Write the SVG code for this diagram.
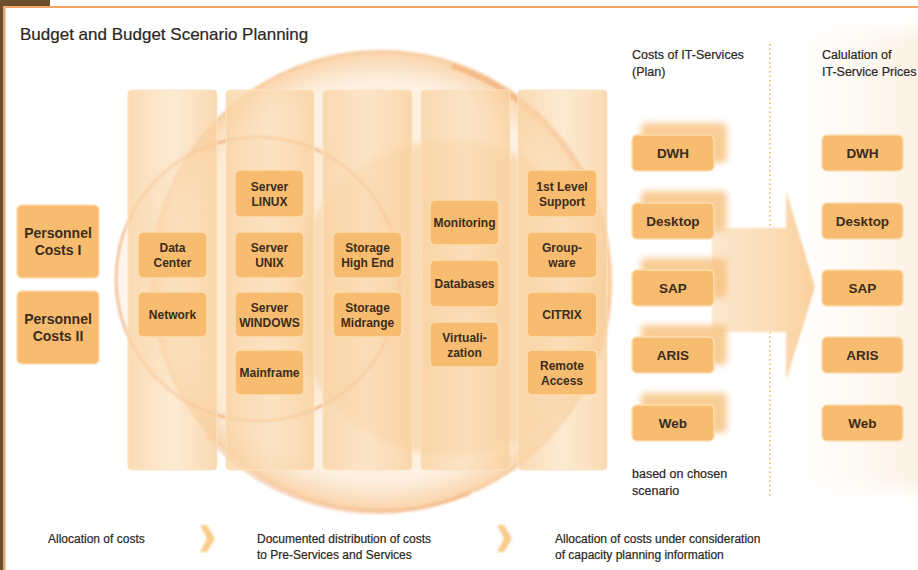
<svg xmlns="http://www.w3.org/2000/svg" width="918" height="570" viewBox="0 0 918 570">
<defs>
<style>
.t{font-family:"Liberation Sans",Arial,sans-serif;fill:#2a2622;stroke:#2a2622;stroke-width:0.2}
.n rect{fill:#F7BC70;stroke:#FCDDB0;stroke-width:1.5}
.n text{font-family:"Liberation Sans",Arial,sans-serif;font-weight:bold;font-size:12px;fill:#3a2c1c;text-anchor:middle}
.big text{font-size:14px}
.svc text{font-size:13.5px}
.n rect.stk{fill:#F8C383;stroke:none;filter:url(#blur3);opacity:0.85}
.col{fill:url(#colg);stroke:#FCE3C2;stroke-width:1}
.chev{fill:#F9CC8C;filter:url(#blur1)}
</style>
<linearGradient id="colg" x1="0" y1="0" x2="1" y2="0">
<stop offset="0" stop-color="#F9D3A3" stop-opacity="0.8"/>
<stop offset="0.5" stop-color="#FBDDB6" stop-opacity="0.62"/>
<stop offset="1" stop-color="#F9D09E" stop-opacity="0.8"/>
</linearGradient>
<radialGradient id="bigg" cx="0.5" cy="0.5" r="0.5">
<stop offset="0" stop-color="#FBE0BC" stop-opacity="0.45"/>
<stop offset="0.86" stop-color="#FCE6CA" stop-opacity="0.55"/>
<stop offset="1" stop-color="#F7C38A" stop-opacity="0.75"/>
</radialGradient>
<linearGradient id="arrg" x1="712" y1="0" x2="815" y2="0" gradientUnits="userSpaceOnUse">
<stop offset="0" stop-color="#FCE7CE"/>
<stop offset="0.6" stop-color="#FBDDB6"/>
<stop offset="1" stop-color="#F9D09C"/>
</linearGradient>
<linearGradient id="rightg" x1="0" y1="0" x2="1" y2="0">
<stop offset="0" stop-color="#FDF3E8" stop-opacity="0"/>
<stop offset="1" stop-color="#FCEBD8" stop-opacity="0.8"/>
</linearGradient>
<filter id="blur1" x="-30%" y="-30%" width="160%" height="160%"><feGaussianBlur stdDeviation="1.2"/></filter>
<filter id="blur3" x="-30%" y="-30%" width="160%" height="160%"><feGaussianBlur stdDeviation="3"/></filter>
<filter id="blur8" x="-30%" y="-30%" width="160%" height="160%"><feGaussianBlur stdDeviation="8"/></filter>
</defs>

<rect x="0" y="0" width="918" height="570" fill="#FFFFFF"/>
<rect x="790" y="30" width="140" height="460" fill="url(#rightg)" filter="url(#blur8)"/>

<!-- frame -->
<g id="frame">
<rect x="0" y="0" width="50" height="6" fill="#6E4F2C"/>
<rect x="0" y="0" width="3.5" height="570" fill="#6E4F2C"/>
<line x1="4.5" y1="7" x2="918" y2="7" stroke="#F2A566" stroke-width="2"/>
<line x1="4.5" y1="6" x2="4.5" y2="570" stroke="#F2A566" stroke-width="2"/>
</g>

<!-- background circles -->
<g id="decoration">
<circle cx="381" cy="281" r="230" fill="url(#bigg)" stroke="#F6BE88" stroke-width="3" stroke-opacity="0.5" filter="url(#blur1)"/>
<circle cx="450" cy="298" r="158" fill="#F6BF7E" opacity="0.42" filter="url(#blur3)"/>
<circle cx="258" cy="279" r="142" fill="#FBDDB8" fill-opacity="0.25" stroke="#EE9F66" stroke-width="3" stroke-opacity="0.6" filter="url(#blur1)"/>
<path d="M 452 66 A 230 230 0 0 1 585 180" fill="none" stroke="#F0A36A" stroke-width="5" opacity="0.55" filter="url(#blur1)"/>
<path d="M 205 434 A 230 230 0 0 0 470 493" fill="none" stroke="#F0A36A" stroke-width="4" opacity="0.4" filter="url(#blur1)"/>
</g>

<!-- cost layer columns -->
<g id="columns">
<rect id="col1" class="col" x="128" y="90" width="89" height="380" rx="4"/>
<rect id="col2" class="col" x="226" y="90" width="88" height="380" rx="4"/>
<rect id="col3" class="col" x="323" y="90" width="89" height="380" rx="4"/>
<rect id="col4" class="col" x="421" y="90" width="89" height="380" rx="4"/>
<rect id="col5" class="col" x="518" y="90" width="89" height="380" rx="4"/>
</g>

<!-- connectors -->
<g id="connectors">
<line x1="770" y1="44" x2="770" y2="496" stroke="#E9B85E" stroke-width="1.6" stroke-dasharray="1.5 3"/>
<g filter="url(#blur1)">
<path d="M 712 228 L 786 228 L 786 190 L 815 287 L 786 381 L 786 332 L 712 332 Z" fill="url(#arrg)"/>
</g>
<polygon class="chev" points="200,525 207,525 215,538.5 207,552 200,552 207,538.5"/>
<polygon class="chev" points="497,525 504,525 512,538.5 504,552 497,552 504,538.5"/>
</g>

<!-- title -->
<text class="t" x="20" y="40" font-size="17">Budget and Budget Scenario Planning</text>

<!-- personnel -->
<g id="pers1" class="n big"><rect x="17" y="205" width="82" height="73" rx="5"/><text x="58" y="238">Personnel</text><text x="58" y="255">Costs I</text></g>
<g id="pers2" class="n big"><rect x="17" y="291" width="82" height="73" rx="5"/><text x="58" y="324">Personnel</text><text x="58" y="341">Costs II</text></g>

<!-- column 1 -->
<g id="datacenter" class="n"><rect x="138" y="232" width="69" height="46" rx="5"/><text x="172.5" y="252">Data</text><text x="172.5" y="267">Center</text></g>
<g id="network" class="n"><rect x="138" y="292" width="69" height="45" rx="5"/><text x="172.5" y="318.5">Network</text></g>

<!-- column 2 -->
<g id="linux" class="n"><rect x="235" y="170" width="69" height="47" rx="5"/><text x="269.5" y="191">Server</text><text x="269.5" y="206">LINUX</text></g>
<g id="unix" class="n"><rect x="235" y="232" width="69" height="46" rx="5"/><text x="269.5" y="252">Server</text><text x="269.5" y="267">UNIX</text></g>
<g id="windows" class="n"><rect x="235" y="292" width="69" height="45" rx="5"/><text x="269.5" y="311.5">Server</text><text x="269.5" y="326.5">WINDOWS</text></g>
<g id="mainframe" class="n"><rect x="235" y="350" width="69" height="45" rx="5"/><text x="269.5" y="376.5">Mainframe</text></g>

<!-- column 3 -->
<g id="storagehigh" class="n"><rect x="333" y="232" width="69" height="46" rx="5"/><text x="367.5" y="252">Storage</text><text x="367.5" y="267">High End</text></g>
<g id="storagemid" class="n"><rect x="333" y="292" width="69" height="45" rx="5"/><text x="367.5" y="311.5">Storage</text><text x="367.5" y="326.5">Midrange</text></g>

<!-- column 4 -->
<g id="monitoring" class="n"><rect x="430" y="200" width="69" height="45" rx="5"/><text x="464.5" y="226.5">Monitoring</text></g>
<g id="databases" class="n"><rect x="430" y="260" width="69" height="47" rx="5"/><text x="464.5" y="287.5">Databases</text></g>
<g id="virtualization" class="n"><rect x="430" y="322" width="69" height="45" rx="5"/><text x="464.5" y="341.5">Virtuali-</text><text x="464.5" y="356.5">zation</text></g>

<!-- column 5 -->
<g id="support" class="n"><rect x="527" y="170" width="70" height="47" rx="5"/><text x="562" y="191">1st Level</text><text x="562" y="206">Support</text></g>
<g id="groupware" class="n"><rect x="527" y="232" width="70" height="46" rx="5"/><text x="562" y="252">Group-</text><text x="562" y="267">ware</text></g>
<g id="citrix" class="n"><rect x="527" y="292" width="70" height="45" rx="5"/><text x="562" y="318.5">CITRIX</text></g>
<g id="remote" class="n"><rect x="527" y="350" width="70" height="45" rx="5"/><text x="562" y="369.5">Remote</text><text x="562" y="384.5">Access</text></g>

<!-- IT services (plan) -->
<text class="t" x="632" y="59" font-size="12.5">Costs of IT-Services</text>
<text class="t" x="632" y="76" font-size="12.5">(Plan)</text>

<g id="dwh1" class="n svc"><rect class="stk" x="641" y="123" width="86" height="40" rx="5"/><rect x="632" y="135" width="82" height="36" rx="5"/><text x="673" y="158">DWH</text></g>
<g id="desktop1" class="n svc"><rect class="stk" x="641" y="191" width="86" height="40" rx="5"/><rect x="632" y="203" width="82" height="36" rx="5"/><text x="673" y="226">Desktop</text></g>
<g id="sap1" class="n svc"><rect class="stk" x="641" y="258" width="86" height="40" rx="5"/><rect x="632" y="270" width="82" height="36" rx="5"/><text x="673" y="293">SAP</text></g>
<g id="aris1" class="n svc"><rect class="stk" x="641" y="325" width="86" height="40" rx="5"/><rect x="632" y="337" width="82" height="36" rx="5"/><text x="673" y="360">ARIS</text></g>
<g id="web1" class="n svc"><rect class="stk" x="641" y="393" width="86" height="40" rx="5"/><rect x="632" y="405" width="82" height="36" rx="5"/><text x="673" y="428">Web</text></g>

<text class="t" x="632" y="478" font-size="12.5">based on chosen</text>
<text class="t" x="632" y="495" font-size="12.5">scenario</text>

<!-- IT service prices -->
<text class="t" x="822" y="59" font-size="12.5">Calulation of</text>
<text class="t" x="822" y="76" font-size="12.5">IT-Service Prices</text>

<g id="dwh2" class="n svc"><rect x="822" y="135" width="81" height="36" rx="5"/><text x="862.5" y="158">DWH</text></g>
<g id="desktop2" class="n svc"><rect x="822" y="203" width="81" height="36" rx="5"/><text x="862.5" y="226">Desktop</text></g>
<g id="sap2" class="n svc"><rect x="822" y="270" width="81" height="36" rx="5"/><text x="862.5" y="293">SAP</text></g>
<g id="aris2" class="n svc"><rect x="822" y="337" width="81" height="36" rx="5"/><text x="862.5" y="360">ARIS</text></g>
<g id="web2" class="n svc"><rect x="822" y="405" width="81" height="36" rx="5"/><text x="862.5" y="428">Web</text></g>

<!-- bottom captions -->
<text class="t" x="48" y="543" font-size="12">Allocation of costs</text>
<text class="t" x="257" y="543" font-size="12">Documented distribution of costs</text>
<text class="t" x="257" y="559" font-size="12">to Pre-Services and Services</text>
<text class="t" x="555" y="543" font-size="12">Allocation of costs under consideration</text>
<text class="t" x="555" y="559" font-size="12">of capacity planning information</text>
</svg>
